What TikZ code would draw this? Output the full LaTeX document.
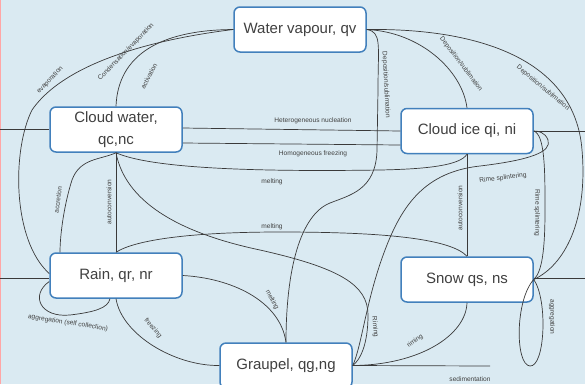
\documentclass[tikz,border=0pt]{standalone}
\usepackage{fontspec}
\setmainfont{Liberation Sans}
\usetikzlibrary{calc}

\definecolor{bgblue}{RGB}{218,234,242}
\definecolor{boxblue}{RGB}{66,128,188}
\definecolor{linegray}{RGB}{58,58,58}
\definecolor{textgray}{RGB}{64,64,64}

\begin{document}
\begin{tikzpicture}[x=1pt, y=-1pt,
		species/.style={draw=boxblue, line width=1.5pt, fill=white, rounded corners=6pt, minimum width=132pt, minimum height=45pt, inner sep=0pt, text=textgray, font=\fontsize{15}{16}\selectfont, align=center},
		flux/.style={draw=linegray, line width=0.7pt},
		proc/.style={text=textgray, font=\fontsize{6.6}{7}\selectfont, inner sep=0pt}]
			%%%%% START %%%%%
			
			\useasboundingbox (0, 0) rectangle (585, 384);
			\clip (0, 0) rectangle (585, 384);
			\fill[bgblue] (0, 0) rectangle (585, 384);
			\draw[line width=1pt, color=red!35] (0.5, 0) -- (0.5, 384);
			
			\node[species] (wv) at (300, 29.5) {Water vapour, qv};
			\node[species, font=\fontsize{15}{22}\selectfont] (cw) at (116, 129.5) {Cloud water,\\qc,nc};
			\node[species] (ci) at (467, 131) {Cloud ice qi, ni};
			\node[species] (rain) at (116, 275.5) {Rain, qr, nr};
			\node[species] (snow) at (467, 279.5) {Snow qs, ns};
			\node[species] (grp) at (286, 365.5) {Graupel, qg,ng};
			
			\coordinate (inCw) at (0, 129.5);
			\coordinate (inRain) at (0, 278);
			\coordinate (outCi) at (585, 131);
			\coordinate (outSnow) at (585, 278.5);
			\coordinate (sedEnd) at (490, 366);
			
			\draw[flux] (inCw) -- (cw.west);
			\draw[flux] (inRain) -- ([yshift=-2.5pt]rain.west);
			\draw[flux] (ci.east) -- (outCi);
			\draw[flux] ([yshift=1pt]snow.east) -- (outSnow);
			
			% vapour
			\draw[flux] (wv.west) .. controls (180, 36) and (70, 55) .. (32, 110) .. controls (12, 150) and (12, 240) .. ([yshift=2pt]rain.west);
			\draw[flux] (wv.west) .. controls (160, 30) and (118, 55) .. (cw.north);
			\draw[flux] (wv.east) .. controls (382, 32) and (378, 45) .. (378, 90) -- (377, 150) .. controls (376, 190) and (350, 195) .. (330, 203) .. controls (300, 215) and (286, 270) .. (grp.north);
			\draw[flux] (wv.east) .. controls (420, 32) and (462, 70) .. (ci.north);
			\draw[flux] (wv.east) .. controls (480, 28) and (575, 60) .. (582, 150) .. controls (588, 220) and (565, 265) .. (snow.east);
			
			\node[proc, rotate=47] (evap) at (50, 80) {evaporation};
			\node[proc, rotate=46] (cond) at (126, 52) {Condensation/evaporation};
			\node[proc, rotate=62] (activ) at (149, 76) {activation};
			\node[proc, rotate=-87] (depG) at (386, 85) {Deposition/sublimation};
			\node[proc, rotate=-53] (depI) at (461, 64) {Deposition/sublimation};
			\node[proc, rotate=-40] (depS) at (543, 88) {Deposition/sublimation};
			
			% cloud water
			\draw[flux] ([yshift=1.5pt]cw.east) -- (ci.west);
			\draw[flux] ([yshift=-13.5pt]cw.east) -- ([yshift=-14pt]ci.west);
			\draw[flux] (cw.south) .. controls (150, 168) and (250, 172) .. (380, 170) .. controls (430, 169) and (460, 165) .. (ci.south);
			\draw[flux] (cw.south) .. controls (125, 200) and (175, 232) .. (260, 250) .. controls (340, 268) and (368, 285) .. (368, 315) .. controls (368, 345) and (360, 360) .. (grp.east);
			\draw[flux] (cw.south) -- (rain.north);
			\draw[flux] (cw.south) .. controls (100, 160) and (80, 158) .. (72, 180) .. controls (64, 205) and (60, 235) .. ([xshift=-56pt]rain.north);
			
			\node[proc] (hetN) at (313, 121) {Heterogeneous nucleation};
			\node[proc] (homF) at (313, 154) {Homogeneous freezing};
			\node[proc] (meltI) at (272, 182) {melting};
			\node[proc, rotate=90] (autoC) at (109, 202) {autoconversion};
			\node[proc, rotate=83] (accr) at (58, 200) {accretion};
			
			% ice and snow
			\draw[flux] (rain.north) .. controls (135, 240) and (190, 232) .. (280, 232) .. controls (380, 232) and (450, 238) .. (snow.north);
			\draw[flux] (ci.south) -- (snow.north);
			\draw[flux] (grp.east) .. controls (362, 345) and (366, 300) .. (385, 250) .. controls (402, 205) and (425, 172) .. (480, 166) .. controls (530, 160) and (552, 152) .. (548, 140) .. controls (545, 132) and (538, 131) .. (ci.east);
			\draw[flux] (ci.east) .. controls (545, 135) and (545, 170) .. (545, 210) .. controls (545, 250) and (542, 272) .. (snow.east);
			\draw[flux] (snow.east) .. controls (515, 300) and (515, 365) .. (530, 366) .. controls (545, 367) and (548, 300) .. (snow.east);
			\draw[flux] (snow.south) .. controls (466, 335) and (420, 365) .. (grp.east);
			
			\node[proc] (meltS) at (272, 227) {melting};
			\node[proc, rotate=90] (autoI) at (460, 208) {autoconversion};
			\node[proc, rotate=7] (rimeH) at (503, 178) {Rime splintering};
			\node[proc, rotate=-90] (rimeV) at (537, 213) {Rime splintering};
			\node[proc, rotate=-90] (aggS) at (552, 317) {aggregation};
			\node[proc, rotate=-85] (rimG) at (375, 327) {Riming};
			\node[proc, rotate=37] (rimS) at (415, 341) {riming};
			
			% rain and graupel
			\draw[flux] ([yshift=-6pt]rain.west) .. controls (30, 295) and (40, 318) .. (70, 315) .. controls (95, 312) and (108, 308) .. ([xshift=-6pt]rain.south);
			\draw[flux] (rain.south) .. controls (122, 335) and (175, 366) .. (grp.west);
			\draw[flux] (rain.east) .. controls (230, 278) and (280, 300) .. (grp.north);
			\draw[flux] (grp.east) -- (sedEnd);
			
			\node[proc, rotate=-9] (selfC) at (68, 323) {aggregation (self collection)};
			\node[proc, rotate=-50] (frz) at (153, 328) {freezing};
			\node[proc, rotate=-62] (meltR) at (272, 300) {melting};
			\node[proc] (sedi) at (470, 379) {sedimentation};
			
			%%%%% END %%%%%
		\end{tikzpicture}
\end{document}
